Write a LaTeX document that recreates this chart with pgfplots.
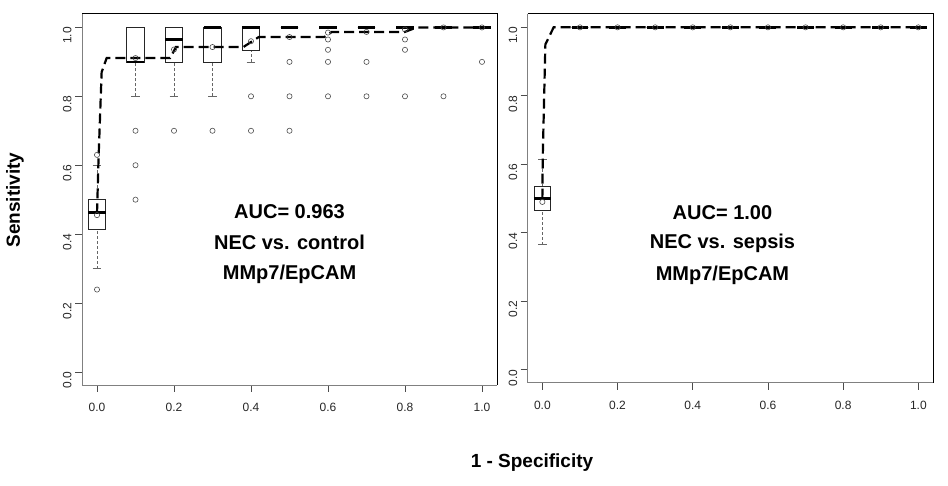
\documentclass[border=0pt]{standalone}
\usepackage{fontspec}
\setmainfont{Liberation Sans}
\usepackage{pgfplots}
\pgfplotsset{compat=1.18}
\usepgfplotslibrary{statistics}

\pgfplotsset{
  rpanel/.style={
    scale only axis,
    axis lines*=left,
    axis line style={gray, line width=0.8pt},
    xmin=-0.039, xmax=1.039, ymin=-0.038, ymax=1.039,
    xtick={0,0.2,0.4,0.6,0.8,1}, ytick={0,0.2,0.4,0.6,0.8,1},
    tick align=outside, major tick length=7pt,
    tick style={gray!60!black, line width=0.8pt},
    /pgf/number format/.cd, fixed, fixed zerofill, precision=1, assume math mode=true,
    /pgfplots/.cd,
    ticklabel style={font=\fontsize{12}{14}\selectfont, text=black!85},
    xticklabel style={yshift=-8pt},
    yticklabel style={rotate=90, anchor=south, xshift=-8pt},
    clip=false,
  },
  rbox/.style={
    boxplot prepared={#1},
    boxplot/draw direction=y,
    boxplot/box extend=0.045,
    boxplot/whisker extend=0.0225,
    black!85, line width=0.7pt,
    boxplot/every median/.style={black, line width=2.6pt},
    boxplot/draw/lower whisker/.code={
      \draw[gray!80!black, line width=0.6pt, densely dashed]
        (boxplot cs:\pgfplotsboxplotvalue{lower whisker}) -- (boxplot cs:\pgfplotsboxplotvalue{lower quartile});
      \draw[gray!80!black, line width=0.7pt]
        (boxplot whisker cs:\pgfplotsboxplotvalue{lower whisker},0) -- (boxplot whisker cs:\pgfplotsboxplotvalue{lower whisker},1);
    },
    boxplot/draw/upper whisker/.code={
      \draw[gray!80!black, line width=0.6pt, densely dashed]
        (boxplot cs:\pgfplotsboxplotvalue{upper whisker}) -- (boxplot cs:\pgfplotsboxplotvalue{upper quartile});
      \draw[gray!80!black, line width=0.7pt]
        (boxplot whisker cs:\pgfplotsboxplotvalue{upper whisker},0) -- (boxplot whisker cs:\pgfplotsboxplotvalue{upper whisker},1);
    },
  },
  roc/.style={black, line width=2.2pt, dash pattern=on 10pt off 5pt},
  pts/.style={only marks, mark=o, mark size=2.6pt, mark options={gray!60!black, line width=0.6pt}},
}
\tikzset{big/.style={font=\fontsize{20}{24}\selectfont\bfseries, align=center}}

\begin{document}
\begin{tikzpicture}
\useasboundingbox (0pt,0pt) rectangle (948pt,486pt);

% left panel: NEC vs. control
\begin{axis}[rpanel, at={(82pt,101pt)}, anchor=south west, width=415pt, height=371pt]
  \addplot[rbox={draw position=0, lower whisker=0.30, lower quartile=0.415, median=0.463, upper quartile=0.50, upper whisker=0.60}] coordinates {};
  \addplot[rbox={draw position=0.1, lower whisker=0.8, lower quartile=0.9, median=0.9, upper quartile=1.0, upper whisker=1.0}] coordinates {};
  \addplot[rbox={draw position=0.2, lower whisker=0.8, lower quartile=0.9, median=0.965, upper quartile=1.0, upper whisker=1.0}] coordinates {};
  \addplot[rbox={draw position=0.3, lower whisker=0.8, lower quartile=0.9, median=1.0, upper quartile=1.0, upper whisker=1.0}] coordinates {};
  \addplot[rbox={draw position=0.4, lower whisker=0.9, lower quartile=0.933, median=1.0, upper quartile=1.0, upper whisker=1.0}] coordinates {};
  \addplot[rbox={draw position=0.5, lower whisker=1, lower quartile=1, median=1, upper quartile=1, upper whisker=1}] coordinates {};
  \addplot[rbox={draw position=0.6, lower whisker=1, lower quartile=1, median=1, upper quartile=1, upper whisker=1}] coordinates {};
  \addplot[rbox={draw position=0.7, lower whisker=1, lower quartile=1, median=1, upper quartile=1, upper whisker=1}] coordinates {};
  \addplot[rbox={draw position=0.8, lower whisker=1, lower quartile=1, median=1, upper quartile=1, upper whisker=1}] coordinates {};
  \addplot[rbox={draw position=0.9, lower whisker=1, lower quartile=1, median=1, upper quartile=1, upper whisker=1}] coordinates {};
  \addplot[rbox={draw position=1.0, lower whisker=1, lower quartile=1, median=1, upper quartile=1, upper whisker=1}] coordinates {};

  \addplot[pts] coordinates {
    (0,0.455) (0,0.63) (0,0.239)
    (0.1,0.911) (0.1,0.70) (0.1,0.60) (0.1,0.50)
    (0.2,0.936) (0.2,0.70)
    (0.3,0.943) (0.3,0.70)
    (0.4,0.96) (0.4,0.80) (0.4,0.70)
    (0.5,0.972) (0.5,0.90) (0.5,0.80) (0.5,0.70)
    (0.6,0.985) (0.6,0.965) (0.6,0.935) (0.6,0.90) (0.6,0.80)
    (0.7,0.987) (0.7,0.90) (0.7,0.80)
    (0.8,0.994) (0.8,0.965) (0.8,0.935) (0.8,0.80)
    (0.9,1.0) (0.9,0.80)
    (1.0,1.0) (1.0,0.90)
  };

  \addplot[roc] coordinates {
    (0,0.46) (0.004,0.62) (0.012,0.87) (0.025,0.911) (0.19,0.911) (0.205,0.943)
    (0.38,0.943) (0.42,0.972) (0.59,0.972) (0.61,0.987) (0.8,0.987) (0.83,1.0) (1.0,1.0)
  };

  \draw[black, line width=1pt] (rel axis cs:0,1) -- (rel axis cs:1,1) -- (rel axis cs:1,0);
  \node[big] at (axis cs:0.5,0.465) {AUC= 0.963};
  \node[big] at (axis cs:0.5,0.375) {NEC vs. control};
  \node[big] at (axis cs:0.5,0.282) {MMp7/EpCAM};
\end{axis}

% right panel: NEC vs. sepsis
\begin{axis}[rpanel, at={(527.7pt,103.3pt)}, anchor=south west, width=405.3pt, height=368.7pt]
  \addplot[rbox={draw position=0, lower whisker=0.365, lower quartile=0.465, median=0.50, upper quartile=0.535, upper whisker=0.615}] coordinates {};
  \addplot[rbox={draw position=0.1, lower whisker=1, lower quartile=1, median=1, upper quartile=1, upper whisker=1}] coordinates {};
  \addplot[rbox={draw position=0.2, lower whisker=1, lower quartile=1, median=1, upper quartile=1, upper whisker=1}] coordinates {};
  \addplot[rbox={draw position=0.3, lower whisker=1, lower quartile=1, median=1, upper quartile=1, upper whisker=1}] coordinates {};
  \addplot[rbox={draw position=0.4, lower whisker=1, lower quartile=1, median=1, upper quartile=1, upper whisker=1}] coordinates {};
  \addplot[rbox={draw position=0.5, lower whisker=1, lower quartile=1, median=1, upper quartile=1, upper whisker=1}] coordinates {};
  \addplot[rbox={draw position=0.6, lower whisker=1, lower quartile=1, median=1, upper quartile=1, upper whisker=1}] coordinates {};
  \addplot[rbox={draw position=0.7, lower whisker=1, lower quartile=1, median=1, upper quartile=1, upper whisker=1}] coordinates {};
  \addplot[rbox={draw position=0.8, lower whisker=1, lower quartile=1, median=1, upper quartile=1, upper whisker=1}] coordinates {};
  \addplot[rbox={draw position=0.9, lower whisker=1, lower quartile=1, median=1, upper quartile=1, upper whisker=1}] coordinates {};
  \addplot[rbox={draw position=1.0, lower whisker=1, lower quartile=1, median=1, upper quartile=1, upper whisker=1}] coordinates {};

  \addplot[pts] coordinates {
    (0,0.49) (0.1,1) (0.2,1) (0.3,1) (0.4,1) (0.5,1) (0.6,1) (0.7,1) (0.8,1) (0.9,1) (1.0,1)
  };

  \addplot[roc] coordinates {
    (0,0.50) (0.001,0.62) (0.008,0.95) (0.03,1.0) (1.0,1.0)
  };

  \draw[black, line width=1pt] (rel axis cs:0,1) -- (rel axis cs:1,1) -- (rel axis cs:1,0);
  \node[big] at (axis cs:0.479,0.46) {AUC= 1.00};
  \node[big] at (axis cs:0.479,0.369) {NEC vs. sepsis};
  \node[big] at (axis cs:0.479,0.276) {MMp7/EpCAM};
\end{axis}

\node[rotate=90, font=\fontsize{19}{22}\selectfont\bfseries] at (15pt,286pt) {Sensitivity};
\node[font=\fontsize{19}{22}\selectfont\bfseries] at (532pt,23pt) {1 - Specificity};
\end{tikzpicture}
\end{document}
